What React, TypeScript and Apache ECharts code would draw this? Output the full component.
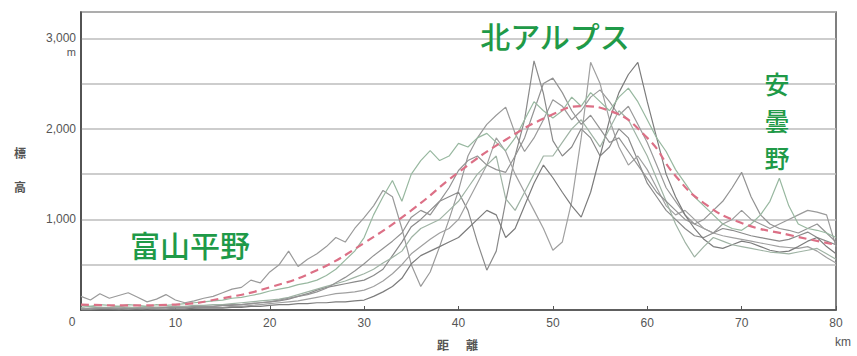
import React, { useEffect, useRef } from "react";
import * as echarts from "echarts";

// Distance along the profile (km)
const DISTANCE_KM = [
  0, 1, 2, 3, 4, 5, 6, 7, 8, 9, 10,
  11, 12, 13, 14, 15, 16, 17, 18, 19, 20,
  21, 22, 23, 24, 25, 26, 27, 28, 29, 30,
  31, 32, 33, 34, 35, 36, 37, 38, 39, 40,
  41, 42, 43, 44, 45, 46, 47, 48, 49, 50,
  51, 52, 53, 54, 55, 56, 57, 58, 59, 60,
  61, 62, 63, 64, 65, 66, 67, 68, 69, 70,
  71, 72, 73, 74, 75, 76, 77, 78, 79, 80,
];

// Elevation profiles (m)
const PROFILE_1 = [
  150, 110, 180, 130, 160, 190, 140, 90, 120, 170, 110,
  80, 100, 130, 150, 190, 230, 250, 330, 300, 420,
  500, 650, 480, 560, 620, 700, 800, 750, 900, 1020,
  1150, 1320, 1250, 900, 500, 260, 420, 700, 1000, 1320,
  1700, 1900, 2050, 2150, 2240, 1950, 1750, 1900, 2100, 2320,
  2250, 2100, 2200, 2350, 2430, 2300, 2150, 2250, 2050, 1850,
  1600, 1350, 1200, 1050, 950, 900, 850, 950, 1000, 1100,
  1000, 950, 900, 950, 1000, 1050, 1100, 1080, 1050, 700,
];
const PROFILE_2 = [
  10, 20, 30, 20, 20, 30, 20, 20, 30, 30, 40,
  30, 30, 40, 40, 50, 50, 60, 70, 80, 90,
  100, 120, 150, 180, 220, 250, 270, 290, 310, 330,
  380, 450, 600, 750, 920, 1000, 1100, 1200, 1250, 1300,
  1100, 750, 440, 650, 1200, 1700, 2100, 2750, 2390, 1870,
  1700, 1800, 2000, 1900, 1700, 1800, 2000, 1900, 1650, 1400,
  1250, 1100, 1000, 900, 820, 800, 850, 900, 880, 850,
  820, 800, 780, 760, 780, 820, 860, 800, 760, 720,
];
const PROFILE_3 = [
  20, 10, 20, 20, 10, 20, 20, 20, 10, 10, 20,
  20, 20, 30, 30, 30, 40, 40, 50, 60, 70,
  80, 90, 100, 120, 140, 160, 180, 190, 200, 220,
  260, 320, 400, 500, 620, 700, 780, 850, 900, 1000,
  1200, 1400, 1600, 1900, 1750, 1500, 1300, 1100, 900, 660,
  750, 1200, 1900, 2734, 2500, 2100, 1800, 1600, 1700, 1550,
  1350, 1150, 1050, 1100, 1000, 900, 850, 820, 800, 780,
  760, 740, 720, 700, 690, 680, 700, 650, 580, 520,
];
const PROFILE_4 = [
  0, 0, 10, 10, 0, 10, 10, 0, 10, 10, 10,
  10, 20, 20, 20, 20, 30, 30, 40, 40, 50,
  60, 60, 70, 70, 80, 80, 90, 90, 100, 110,
  150, 200, 260, 350, 510, 600, 650, 700, 750, 800,
  900, 1000, 1100, 1050, 800, 900, 1150, 1400, 1600, 1460,
  1300, 1150, 1025, 1300, 1700, 2100, 2400, 2600, 2734, 2300,
  1900, 1500, 1250, 1050, 900, 780, 700, 680, 720, 760,
  740, 700, 660, 640, 650, 700, 760, 800, 700, 620,
];
const PROFILE_5 = [
  30, 40, 30, 30, 40, 30, 30, 40, 30, 30, 40,
  40, 50, 50, 60, 60, 70, 80, 90, 100, 110,
  120, 140, 170, 200, 230, 260, 290, 320, 360, 400,
  450, 520, 580, 650, 800, 900, 950, 1000, 1100, 1200,
  1350, 1500, 1600, 1700, 1230, 1100, 1300, 1500, 1700, 1700,
  1850, 2000, 2100, 1950, 1800, 2000, 2200, 2100, 1900, 1700,
  1450, 1200, 950, 750, 585, 700, 800, 760, 720, 700,
  680, 660, 640, 630, 620, 640, 660, 680, 620, 560,
];
const PROFILE_6 = [
  10, 10, 20, 20, 20, 10, 20, 20, 20, 30, 30,
  30, 40, 40, 40, 50, 60, 60, 70, 80, 90,
  110, 130, 150, 170, 200, 240, 300, 360, 430, 510,
  600, 680, 760, 850, 1025, 1100, 1050, 1200, 1350, 1540,
  1650, 1700, 1600, 1550, 1520, 1700, 1900, 2200, 2500, 2560,
  2400, 2200, 2050, 2150, 2000, 1850, 1900, 1750, 1600, 1450,
  1300, 1200, 1100, 1000, 950, 1000, 1100, 1200, 1350, 1520,
  1250, 1050, 950, 900, 880, 850, 900, 950, 850, 750,
];
const PROFILE_7 = [
  50, 40, 60, 50, 40, 60, 50, 40, 60, 50, 60,
  70, 80, 90, 100, 110, 130, 140, 160, 180, 210,
  230, 250, 280, 300, 330, 380, 450, 550, 650, 800,
  1050, 1250, 1430, 1200, 1500, 1650, 1760, 1650, 1700, 1840,
  1800, 1900, 1950, 1850, 1760, 1900, 2100, 2300, 2200, 2120,
  2200, 2350, 2250, 2400, 2300, 2200, 2350, 2450, 2300, 2100,
  1900, 1750, 1550, 1400, 1250, 1150, 1050, 950, 900, 880,
  950, 1050, 1200, 1455, 1150, 950, 900, 880, 850, 800,
];

// Smoothed mean profile (red dashed)
const MEAN_KM = [0, 5, 10, 15, 20, 25, 30, 35, 40, 45, 50, 53, 56, 60, 63, 66, 70, 75, 80];
const MEAN_ELEV = [60, 50, 60, 130, 250, 440, 740, 1100, 1520, 1880, 2160, 2250, 2200, 1900, 1480, 1180, 960, 830, 720];

const X_TICKS = [0, 10, 20, 30, 40, 50, 60, 70, 80];
const Y_LABELS = [1000, 2000, 3000];

const PROFILES = [PROFILE_1, PROFILE_2, PROFILE_3, PROFILE_4, PROFILE_5, PROFILE_6, PROFILE_7];
const PROFILE_COLORS = ["#9a9a9a", "#8a8a8a", "#a0a0a0", "#7c7c7c", "#9fb3a4", "#939393", "#98b8a0"];

export default function App() {
  const ref = useRef<HTMLDivElement>(null);
  useEffect(() => {
    if (!ref.current) return;
    const chart = echarts.init(ref.current, undefined, { renderer: "svg" });
    const labelFont = "'Liberation Sans', Arial, sans-serif";
    const green = "#1f9a48";
    const cjk = "'Noto Sans CJK JP', sans-serif";
    const series: any[] = PROFILES.map((p, i) => ({
      type: "line",
      data: DISTANCE_KM.map((d, j) => [d, p[j]]),
      showSymbol: false,
      symbol: "none",
      lineStyle: { color: PROFILE_COLORS[i], width: 1.2 },
      z: 2,
    }));
    series.push({
      type: "line",
      data: MEAN_KM.map((d, j) => [d, MEAN_ELEV[j]]),
      smooth: 0.5,
      showSymbol: false,
      symbol: "none",
      lineStyle: { color: "#dc7086", width: 2.2, type: [8, 5] },
      z: 3,
    });
    chart.setOption({
      animation: false,
      grid: {
        left: 81,
        right: 21,
        top: 12,
        bottom: 46,
        show: true,
        borderColor: "#555",
        borderWidth: 1.5,
        backgroundColor: "transparent",
      },
      xAxis: {
        type: "value",
        min: 0,
        max: 80,
        interval: 10,
        axisLine: { show: true, lineStyle: { color: "#444", width: 1.5 } },
        axisTick: { show: true, inside: true, length: 4, lineStyle: { color: "#555" } },
        splitLine: { show: false },
        axisLabel: {
          color: "#555",
          fontSize: 12,
          fontFamily: labelFont,
          margin: 7,
          formatter: (v: number) => (X_TICKS.includes(v) && v !== 0 ? String(v) : ""),
        },
      },
      yAxis: {
        type: "value",
        min: 0,
        max: 3290,
        interval: 500,
        axisLine: { show: true, lineStyle: { color: "#444", width: 1.5 } },
        axisTick: { show: false },
        splitLine: { show: true, lineStyle: { color: "#bdbdbd", width: 1.5 } },
        axisLabel: {
          color: "#555",
          fontSize: 12,
          fontFamily: labelFont,
          margin: 5,
          formatter: (v: number) => (Y_LABELS.includes(v) ? v.toLocaleString("en-US") : ""),
        },
      },
      series,
      graphic: [
        { type: "text", x: 76, y: 52, style: { text: "m", fill: "#555", font: `11px ${labelFont}`, align: "right", verticalAlign: "middle" } },
        { type: "text", x: 72, y: 322, style: { text: "0", fill: "#555", font: `12px ${labelFont}`, align: "center", verticalAlign: "middle" } },
        { type: "text", x: 20, y: 152, style: { text: "標", fill: "#555", font: `bold 12px ${cjk}`, align: "center", verticalAlign: "middle" } },
        { type: "text", x: 20, y: 186, style: { text: "高", fill: "#555", font: `bold 12px ${cjk}`, align: "center", verticalAlign: "middle" } },
        { type: "text", x: 443, y: 344, style: { text: "距", fill: "#555", font: `bold 12px ${cjk}`, align: "center", verticalAlign: "middle" } },
        { type: "text", x: 472, y: 344, style: { text: "離", fill: "#555", font: `bold 12px ${cjk}`, align: "center", verticalAlign: "middle" } },
        { type: "text", x: 843, y: 342, style: { text: "km", fill: "#555", font: `12px ${labelFont}`, align: "center", verticalAlign: "middle" } },
        { type: "text", x: 555, y: 35, z: 10, style: { text: "北アルプス", fill: green, font: `500 30px ${cjk}`, align: "center", verticalAlign: "middle" } },
        { type: "text", x: 190, y: 244, z: 10, style: { text: "富山平野", fill: green, font: `500 30px ${cjk}`, align: "center", verticalAlign: "middle" } },
        { type: "text", x: 777, y: 83, z: 10, style: { text: "安", fill: green, font: `500 25px ${cjk}`, align: "center", verticalAlign: "middle" } },
        { type: "text", x: 777, y: 120, z: 10, style: { text: "曇", fill: green, font: `500 25px ${cjk}`, align: "center", verticalAlign: "middle" } },
        { type: "text", x: 777, y: 157, z: 10, style: { text: "野", fill: green, font: `500 25px ${cjk}`, align: "center", verticalAlign: "middle" } },
      ],
    });
    return () => chart.dispose();
  }, []);
  return <div ref={ref} style={{ position: "fixed", left: 0, top: 0, width: 857, height: 356, background: "#fff" }} />;
}
